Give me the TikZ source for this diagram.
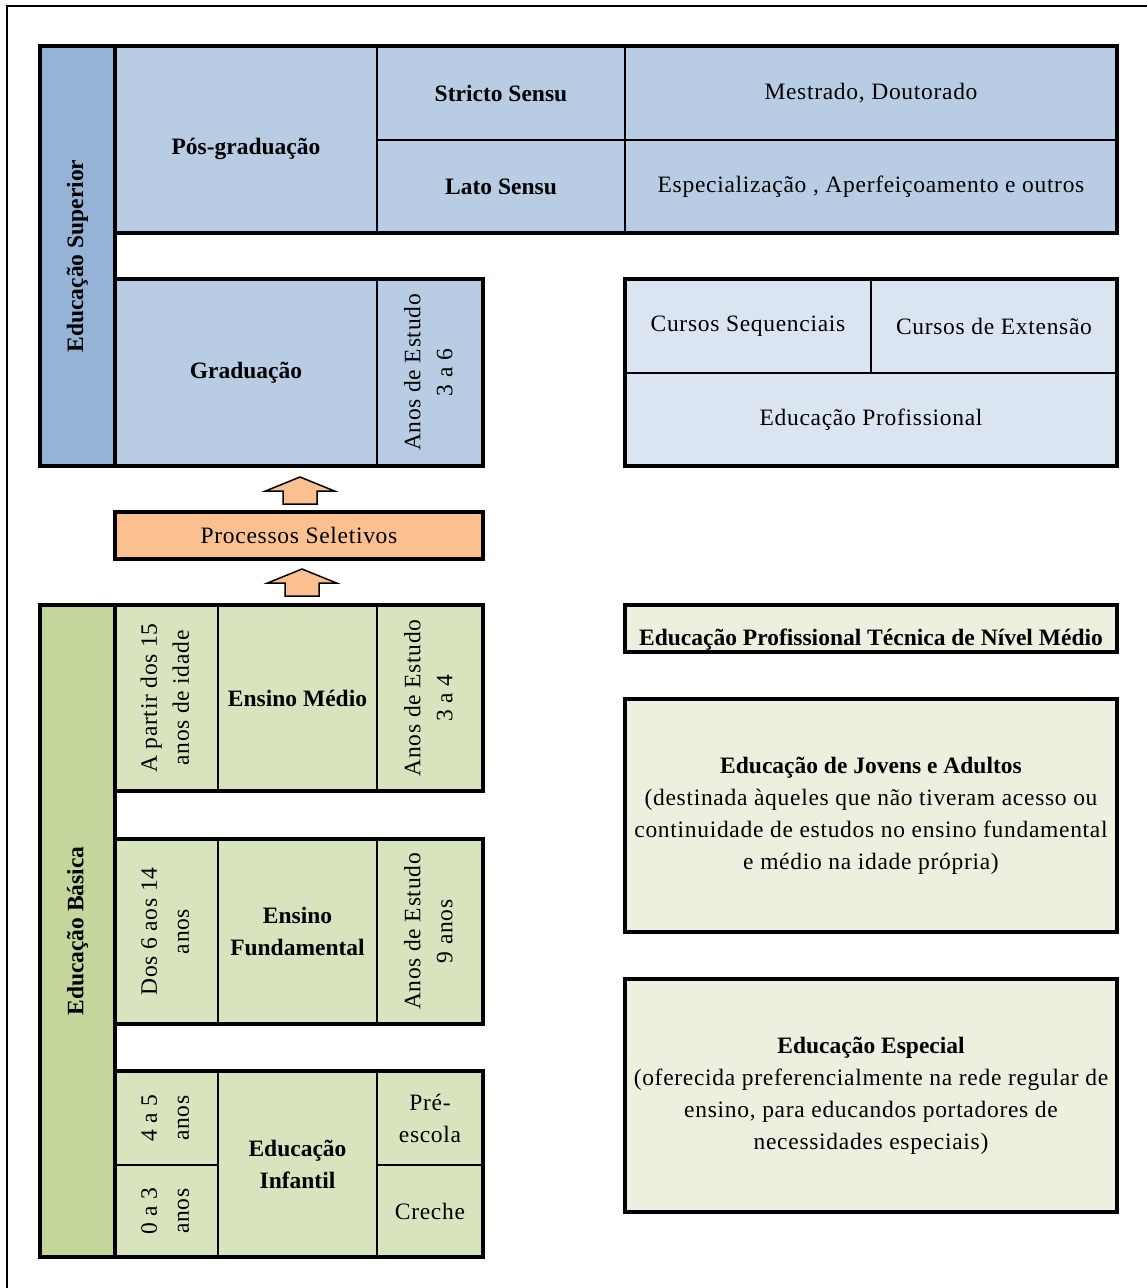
\documentclass[tikz,border=0pt]{standalone}
\usepackage{fontspec}
\usepackage{graphicx}
\setmainfont{Liberation Serif}
\newfontfamily\regfont{Liberation Serif}[LetterSpace=3]

\definecolor{supbar}{HTML}{95B3D7}
\definecolor{supcell}{HTML}{B8CCE4}
\definecolor{suplight}{HTML}{DBE5F1}
\definecolor{basbar}{HTML}{C3D69B}
\definecolor{bascell}{HTML}{D7E4BD}
\definecolor{baslight}{HTML}{EBF1DE}
\definecolor{selecao}{HTML}{FAC090}

\begin{document}
\begin{tikzpicture}[x=1pt,y=-1pt]
\tikzstyle{cell}=[draw, line width=2.5pt, anchor=north west, inner sep=0pt, outer sep=0pt, align=center, font=\fontsize{23.5}{32}\selectfont\regfont]
\tikzstyle{bcell}=[cell, font=\fontsize{23.5}{32}\selectfont\bfseries]
\tikzstyle{outline}=[line width=4pt]
\tikzstyle{seta}=[draw, line width=1.5pt, fill=selecao, line join=miter]

% page and frame
\useasboundingbox (0,0) rectangle (1147,1288);
\draw[line width=2pt] (7,1300) -- (7,6) -- (1160,6);

% Educacao Superior
\node[bcell, fill=supbar, outline, minimum width=75pt, minimum height=420pt] (supbar) at (40,46) {\rotatebox{90}{Educação Superior}};
\node[bcell, fill=supcell, minimum width=262pt, minimum height=187pt] (posgrad) at (115,46) {\raisebox{-14.5pt}[0pt][0pt]{Pós-graduação}};
\node[bcell, fill=supcell, minimum width=248pt, minimum height=94pt] (stricto) at (377,46) {Stricto Sensu};
\node[cell, fill=supcell, minimum width=492pt, minimum height=94pt] (mestrado) at (625,46) {Mestrado, Doutorado};
\node[bcell, fill=supcell, minimum width=248pt, minimum height=93pt] (lato) at (377,140) {Lato Sensu};
\node[cell, fill=supcell, minimum width=492pt, minimum height=93pt] (espec) at (625,140) {Especialização , Aperfeiçoamento e outros};
\draw[outline] (posgrad.north west) rectangle (espec.south east);

\node[bcell, fill=supcell, minimum width=262pt, minimum height=187pt] (grad) at (115,279) {Graduação};
\node[cell, fill=supcell, minimum width=106pt, minimum height=187pt] (anosgrad) at (377,279)
  {\rotatebox{90}{\begin{tabular}{@{}c@{}}Anos de Estudo\\3 a 6\end{tabular}}};
\draw[outline] (grad.north west) rectangle (anosgrad.south east);

% cursos livres
\node[cell, fill=suplight, minimum width=246pt, minimum height=94pt] (seq) at (625,279) {Cursos Sequenciais};
\node[cell, fill=suplight, minimum width=246pt, minimum height=94pt] (ext) at (871,279) {Cursos de Extensão};
\node[cell, fill=suplight, minimum width=492pt, minimum height=93pt] (edprof) at (625,373) {Educação Profissional};
\draw[outline] (seq.north west) rectangle (edprof.south east);

% processos seletivos
\node[cell, fill=selecao, outline, minimum width=368pt, minimum height=47pt] (processos) at (115,512) {Processos Seletivos};
\foreach \bx/\by in {300/504, 302/596}
  \draw[seta] (\bx,\by) ++(-17,0) -- ++(0,-13) -- ++(-17.5,0) -- ++(34.5,-14)
    -- ++(34.5,14) -- ++(-17.5,0) -- ++(0,13) -- cycle;

% Educacao Basica
\node[bcell, fill=basbar, outline, minimum width=75pt, minimum height=652pt] (basbar) at (40,605) {\rotatebox{90}{Educação Básica}};

\node[cell, fill=bascell, minimum width=103pt, minimum height=186pt] (idademed) at (115,605)
  {\rotatebox{90}{\begin{tabular}{@{}c@{}}A partir dos 15\\anos de idade\end{tabular}}};
\node[bcell, fill=bascell, minimum width=159pt, minimum height=186pt] (medio) at (218,605) {Ensino Médio};
\node[cell, fill=bascell, minimum width=106pt, minimum height=186pt] (anosmed) at (377,605)
  {\rotatebox{90}{\begin{tabular}{@{}c@{}}Anos de Estudo\\3 a 4\end{tabular}}};
\draw[outline] (idademed.north west) rectangle (anosmed.south east);

\node[cell, fill=bascell, minimum width=103pt, minimum height=185pt] (idadefund) at (115,839)
  {\rotatebox{90}{\begin{tabular}{@{}c@{}}Dos 6 aos 14\\anos\end{tabular}}};
\node[bcell, fill=bascell, minimum width=159pt, minimum height=185pt] (fund) at (218,839) {Ensino\\Fundamental};
\node[cell, fill=bascell, minimum width=106pt, minimum height=185pt] (anosfund) at (377,839)
  {\rotatebox{90}{\begin{tabular}{@{}c@{}}Anos de Estudo\\9 anos\end{tabular}}};
\draw[outline] (idadefund.north west) rectangle (anosfund.south east);

\node[cell, fill=bascell, minimum width=103pt, minimum height=94pt] (idadepre) at (115,1071)
  {\rotatebox{90}{\begin{tabular}{@{}c@{}}4 a 5\\anos\end{tabular}}};
\node[cell, fill=bascell, minimum width=103pt, minimum height=92pt] (idadecre) at (115,1165)
  {\rotatebox{90}{\begin{tabular}{@{}c@{}}0 a 3\\anos\end{tabular}}};
\node[bcell, fill=bascell, minimum width=159pt, minimum height=186pt] (infantil) at (218,1071) {Educação\\Infantil};
\node[cell, fill=bascell, minimum width=106pt, minimum height=94pt] (pre) at (377,1071) {Pré-\\escola};
\node[cell, fill=bascell, minimum width=106pt, minimum height=92pt] (creche) at (377,1165) {Creche};
\draw[outline] (idadepre.north west) rectangle (creche.south east);

% modalidades
\node[bcell, fill=baslight, outline, minimum width=492pt, minimum height=47pt] (tecnico) at (625,605)
  {\raisebox{-16.5pt}[0pt][0pt]{Educação Profissional Técnica de Nível Médio}};
\node[cell, fill=baslight, outline, minimum width=492pt, minimum height=233pt] (eja) at (625,699)
  {{\normalfont\bfseries Educação de Jovens e Adultos}\\(destinada àqueles que não tiveram acesso ou\\continuidade de estudos no ensino fundamental\\e médio na idade própria)};
\node[cell, fill=baslight, outline, minimum width=492pt, minimum height=233pt] (especial) at (625,979)
  {{\normalfont\bfseries Educação Especial}\\(oferecida preferencialmente na rede regular de\\ensino, para educandos portadores de\\necessidades especiais)};

\end{tikzpicture}
\end{document}
